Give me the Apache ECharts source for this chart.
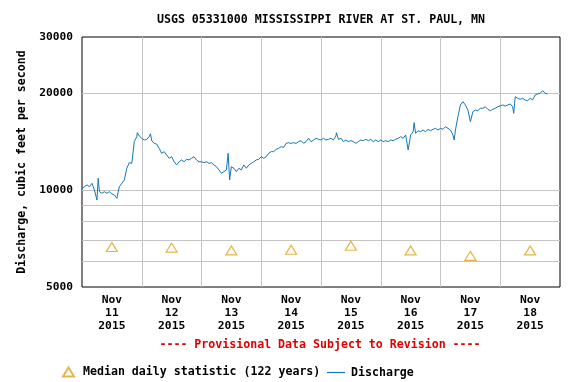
<!DOCTYPE html>
<html><head><meta charset="utf-8">
<script src="https://cdn.jsdelivr.net/npm/echarts@6/dist/echarts.min.js"></script>
<style>html,body{margin:0;padding:0;background:#fff}#c{width:573px;height:382px}</style>
</head><body><div id="c"></div>
<script>
const titleText = 'USGS 05331000 MISSISSIPPI RIVER AT ST. PAUL, MN';
const noteText = '---- Provisional Data Subject to Revision ----';
const dayLabels = ['Nov\n11\n2015','Nov\n12\n2015','Nov\n13\n2015','Nov\n14\n2015','Nov\n15\n2015','Nov\n16\n2015','Nov\n17\n2015','Nov\n18\n2015'];
const yLabelValues = [5000, 10000, 20000, 30000];
const yGridValues = [6000, 7000, 8000, 9000, 10000, 20000];
// median daily statistic at noon of each day (hours since Nov 11 00:00)
const medianHours = [12, 36, 60, 84, 108, 132, 156, 180];
const medianValues = [6660, 6630, 6500, 6530, 6720, 6500, 6250, 6500];
// discharge readings: [hours since Nov 11 00:00, cfs]
const discharge = [
[0,10140],[1,10260],[2,10390],[3,10260],[4,10510],[5,10020],[6,9330],[6.5,10900],[7,9900],[8,9790],[9,9900],[10,9790],[11,9900],[12,9740],[13,9670],[14,9440],[15,10260],[16,10510],[17,10770],[18,11710],[19,12190],[20,12130],[21,14170],[22,14680],[22.2,15110],[23,14760],
[24,14520],[25,14340],[26,14410],[27,14680],[27.5,15000],[28,14270],[29,14000],[30,13930],[31,13510],[32,13040],[33,13190],[34,12880],[35,12580],[36,12720],[37,12270],[38,11990],[39,12270],[40,12430],[41,12270],[42,12490],[43,12430],[44,12580],[45,12720],[46,12430],[47,12270],
[48,12270],[49,12190],[50,12270],[51,12130],[52,12190],[53,11990],[54,11840],[55,11570],[56,11300],[57,11430],[58,11570],[58.7,13040],[59.3,10770],[60,11840],[61,11710],[62,11430],[63,11710],[64,11570],[65,11990],[66,11710],[67,11990],[68,12130],[69,12270],[70,12430],[71,12490],
[72,12720],[73,12580],[74,12720],[75,13040],[76,13190],[77,13190],[78,13420],[79,13510],[80,13670],[81,13610],[82,14000],[83,14060],[84,14000],[85,14060],[86,14000],[87,14170],[88,14270],[89,14000],[90,14170],[91,14520],[92,14170],[93,14340],[94,14520],[95,14410],
[96,14340],[97,14520],[98,14340],[99,14410],[100,14520],[101,14340],[102,14760],[102.2,15110],[103,14410],[104,14520],[105,14170],[106,14340],[107,14170],[108,14270],[109,14170],[110,14000],[111,14170],[112,14340],[113,14270],[114,14410],[115,14270],[116,14410],[117,14170],[118,14340],[119,14170],
[120,14340],[121,14170],[122,14270],[123,14170],[124,14340],[125,14270],[126,14410],[127,14520],[128,14680],[129,14520],[130,14860],[131,13350],[132,14860],[133,15220],[133.4,16230],[134,15040],[135,15330],[136,15220],[137,15400],[138,15220],[139,15480],[140,15330],[141,15480],[142,15590],[143,15400],
[144,15590],[145,15480],[146,15770],[147,15590],[148,15400],[149,14860],[149.5,14340],[150,15400],[151,16950],[152,18430],[153,18870],[154,18430],[155,17780],[156,16350],[157,17570],[158,17780],[159,17690],[160,18000],[161,18000],[162,18200],[163,17870],[164,17690],[165,17870],[166,18000],[167,18200],
[168,18300],[169,18430],[170,18300],[171,18430],[172,18560],[173,18200],[173.4,17360],[174,19560],[175,19330],[176,19200],[177,19330],[178,19100],[179,19000],[180,19330],[181,19100],[182,19800],[183,19940],[184,20040],[185,20420],[186,20040],[187,19940]
];

const F = '"DejaVu Sans Mono", "Liberation Mono", monospace';
const gridColor = '#c4c4c4';
const lineColor = '#1478b4';
const triColor = '#dfa21a';
const legendText = {fontFamily: F, fontWeight: 'bold', fontSize: 11.6, color: '#000'};

const chart = echarts.init(document.getElementById('c'), null, {renderer: 'canvas'});
chart.setOption({
  animation: false,
  backgroundColor: '#fff',
  grid: {left: 82, right: 13, top: 37, bottom: 95, show: true, borderColor: '#000', borderWidth: 1, backgroundColor: 'transparent'},
  graphic: [
    {type: 'text', x: 321, y: 19.5, z: 10, style: {text: titleText, font: 'bold 11.6px ' + F, fill: '#000', textAlign: 'center', textVerticalAlign: 'middle'}},
    {type: 'text', x: 320, y: 345, z: 10, style: {text: noteText, font: 'bold 11.6px ' + F, fill: '#e00000', textAlign: 'center', textVerticalAlign: 'middle'}}
  ],
  legend: [
    {data: ['Median daily statistic (122 years)'], left: 62, top: 366, padding: 0, itemWidth: 11, itemHeight: 9,
     textStyle: Object.assign({padding: [0, 0, 0, 4]}, legendText)},
    {data: [{name: 'Discharge', icon: 'rect'}], left: 327, top: 366.5, padding: 0, itemWidth: 18, itemHeight: 1.2,
     itemStyle: {color: lineColor}, textStyle: Object.assign({padding: [0, 0, 0, 1]}, legendText)}
  ],
  xAxis: [
    {type: 'value', min: 0, max: 192, show: false},
    {type: 'category', data: dayLabels, boundaryGap: true, position: 'bottom',
     axisLine: {show: false}, axisTick: {show: false},
     axisLabel: {interval: 0, margin: 7, lineHeight: 13, fontFamily: F, fontWeight: 'bold', fontSize: 11.3, color: '#000'},
     splitLine: {show: true, interval: 0, showMinLine: false, showMaxLine: false, lineStyle: {color: gridColor, width: 1}}}
  ],
  yAxis: {
    type: 'log', logBase: 10, min: 5000, max: 30000,
    name: 'Discharge, cubic feet per second', nameLocation: 'middle', nameGap: 35, nameRotate: 90,
    nameTextStyle: {fontFamily: F, fontWeight: 'bold', fontSize: 11.6, color: '#000'},
    axisLine: {show: false},
    axisTick: {show: false, customValues: yGridValues},
    axisLabel: {customValues: yLabelValues, formatter: v => String(Math.round(v)), fontFamily: F, fontWeight: 'bold', fontSize: 11.2, color: '#000', margin: 9},
    splitLine: {show: true, lineStyle: {color: gridColor, width: 1}}
  },
  series: [
    {type: 'line', name: 'Discharge', xAxisIndex: 0, data: discharge, symbol: 'none',
     lineStyle: {color: lineColor, width: 1}, itemStyle: {color: lineColor}, z: 3},
    {type: 'scatter', name: 'Median daily statistic (122 years)', xAxisIndex: 0,
     data: medianHours.map((h, i) => [h, medianValues[i]]),
     symbol: 'triangle', symbolSize: [11, 9],
     itemStyle: {color: '#fff', borderColor: triColor, borderWidth: 1.2}, z: 4}
  ]
});
</script></body></html>
